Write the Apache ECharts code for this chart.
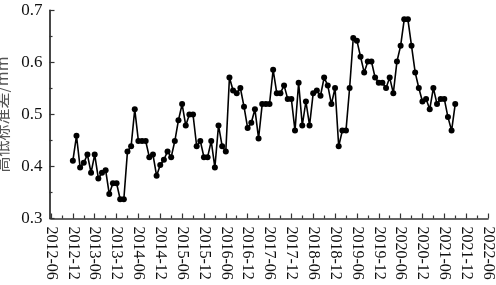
<!DOCTYPE html>
<html>
<head>
<meta charset="utf-8">
<script src="https://cdn.jsdelivr.net/npm/echarts@6/dist/echarts.min.js"></script>
<style>html,body{margin:0;padding:0;background:#fff;}#c{width:496px;height:285px;}</style>
</head>
<body>
<div id="c"></div>
<script>
// monthly samples; x = months since 2012-06 (first sample is 2012-12, i.e. x = 6)
const firstMonthOffset = 6;
const values = [
  0.411, 0.459, 0.398, 0.407, 0.423, 0.388, 0.423, 0.377, 0.388, 0.393,
  0.347, 0.368, 0.368, 0.337, 0.337, 0.429, 0.439, 0.510, 0.449, 0.449,
  0.449, 0.418, 0.423, 0.382, 0.403, 0.413, 0.429, 0.418, 0.449, 0.489,
  0.520, 0.479, 0.500, 0.500, 0.439, 0.449, 0.418, 0.418, 0.449, 0.398,
  0.479, 0.439, 0.429, 0.571, 0.546, 0.541, 0.551, 0.515, 0.474, 0.484,
  0.510, 0.454, 0.520, 0.520, 0.520, 0.586, 0.541, 0.541, 0.556, 0.530,
  0.530, 0.469, 0.561, 0.479, 0.525, 0.479, 0.541, 0.546, 0.536, 0.571,
  0.556, 0.520, 0.551, 0.439, 0.469, 0.469, 0.551, 0.647, 0.642, 0.611,
  0.581, 0.602, 0.602, 0.571, 0.561, 0.561, 0.551, 0.571, 0.541, 0.602,
  0.632, 0.683, 0.683, 0.632, 0.581, 0.551, 0.525, 0.530, 0.510, 0.551,
  0.520, 0.530, 0.530, 0.495, 0.469, 0.520
];
const xTickLabels = [
  '2012-06','2012-12','2013-06','2013-12','2014-06','2014-12','2015-06',
  '2015-12','2016-06','2016-12','2017-06','2017-12','2018-06','2018-12',
  '2019-06','2019-12','2020-06','2020-12','2021-06','2021-12','2022-06'
];
const yTicks = [0.3, 0.4, 0.5, 0.6, 0.7];
const yName = '高低标准差/mm';

const serif = '"Times New Roman", "Liberation Serif", serif';
const axisColor = '#333';
const chart = echarts.init(document.getElementById('c'), null, {renderer: 'canvas'});
chart.setOption({
  animation: false,
  backgroundColor: '#fff',
  grid: {left: 51, right: 8, top: 10.5, bottom: 66.5, containLabel: false, outerBoundsMode: 'none'},
  xAxis: {
    type: 'value', position: 'bottom', z: 10,
    min: 0, max: 120, interval: 6,
    axisLine: {show: true, onZero: false, lineStyle: {color: axisColor, width: 1.6}},
    axisTick: {show: true, inside: true, length: 5, lineStyle: {color: axisColor, width: 1.2}},
    minorTick: {show: true, splitNumber: 2, length: 3, lineStyle: {color: axisColor, width: 1.2}},
    splitLine: {show: false},
    axisLabel: {
      rotate: -90, margin: 8, fontFamily: serif, fontSize: 16, color: '#111',
      showMinLabel: true, showMaxLabel: true,
      formatter: v => xTickLabels[Math.round(v / 6)] || ''
    }
  },
  yAxis: {
    type: 'value', position: 'left', z: 10, offset: 1.5,
    min: yTicks[0], max: yTicks[yTicks.length - 1], interval: 0.1,
    name: yName, nameLocation: 'middle', nameGap: 30, nameRotate: 90,
    nameTextStyle: {fontFamily: '"Noto Sans CJK SC", ' + serif, fontSize: 16, color: '#555'},
    axisLine: {show: true, onZero: false, lineStyle: {color: axisColor, width: 1.8}},
    axisTick: {show: true, inside: true, length: 5, lineStyle: {color: axisColor, width: 1.2}},
    minorTick: {show: true, splitNumber: 2, length: 3, lineStyle: {color: axisColor, width: 1.2}},
    splitLine: {show: false},
    axisLabel: {margin: 7, fontFamily: serif, fontSize: 17, color: '#111', formatter: v => v.toFixed(1)}
  },
  series: [{
    type: 'line', z: 2,
    data: values.map((v, i) => [i + firstMonthOffset, v]),
    symbol: 'circle', symbolSize: 6, showAllSymbol: true,
    lineStyle: {color: '#000', width: 1.6},
    itemStyle: {color: '#000'}
  }]
});
</script>
</body>
</html>
